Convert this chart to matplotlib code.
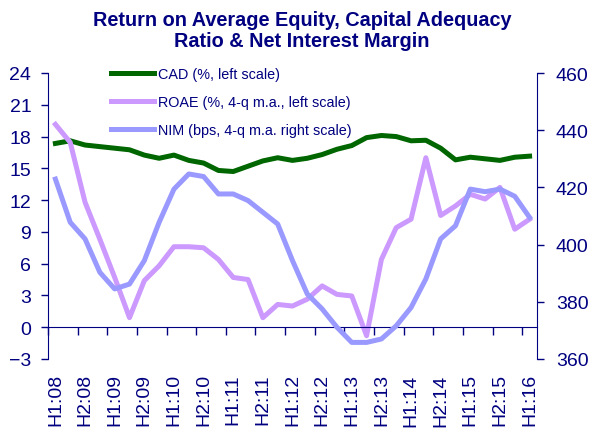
import numpy as np
import matplotlib
matplotlib.use("Agg")
import matplotlib.pyplot as plt
import matplotlib.transforms as mtransforms

plt.rcParams.update({"font.family": ["Liberation Sans", "DejaVu Sans"]})

NAVY = "#000080"
C_CAD = "#006600"
C_ROAE = "#CC99FF"
C_NIM = "#9999FF"

# quarterly points, Q1 2008 .. Q1 2016 (labels every half-year)
labels = ["H1:08", "H2:08", "H1:09", "H2:09", "H1:10", "H2:10", "H1:11", "H2:11",
          "H1:12", "H2:12", "H1:13", "H2:13", "H1:14", "H2:14", "H1:15", "H2:15",
          "H1:16"]

cad = [17.35, 17.6, 17.2, 17.05, 16.9, 16.75, 16.25, 15.95, 16.25, 15.75,
       15.5, 14.8, 14.7, 15.2, 15.7, 16.0, 15.75, 15.95, 16.3, 16.8,
       17.15, 17.9, 18.1, 18.0, 17.6, 17.65, 16.9, 15.8, 16.05, 15.9,
       15.75, 16.05, 16.15]
roae = [19.15, 17.45, 11.8, 8.3, 4.7, 0.9, 4.4, 5.8, 7.6, 7.6,
        7.5, 6.4, 4.7, 4.5, 0.9, 2.15, 2.0, 2.65, 3.9, 3.1,
        2.95, -0.8, 6.4, 9.4, 10.2, 16.0, 10.55, 11.45, 12.55, 12.1,
        13.2, 9.25, 10.2]
nim = [422.9, 407.8, 402.0, 390.3, 384.5, 386.2, 394.4, 407.8, 419.4, 424.7,
       423.8, 417.7, 417.7, 415.4, 411.3, 407.2, 394.4, 382.7, 377.5, 371.1,
       365.8, 365.8, 367.0, 371.6, 378.0, 388.0, 402.0, 406.6, 419.4, 418.5,
       419.4, 416.9, 409.5]

x = np.arange(len(cad))

fig = plt.figure(figsize=(5.89, 4.39), dpi=100)
ax = fig.add_axes([48 / 589, 79 / 439, 489 / 589, 286 / 439])
ax2 = ax.twinx()

l1, = ax.plot(x, cad, color=C_CAD, lw=3.6, solid_joinstyle="round",
              label="CAD (%, left scale)")
l2, = ax.plot(x, roae, color=C_ROAE, lw=3.6, solid_joinstyle="round",
              label="ROAE (%, 4-q m.a., left scale)")
l3, = ax2.plot(x, nim, color=C_NIM, lw=3.6, solid_joinstyle="round",
               label="NIM (bps, 4-q m.a. right scale)")

ax.set_xlim(-0.5, len(cad) - 0.5)
ax.set_ylim(-3, 24)
ax.set_yticks(np.arange(-3, 25, 3))
ax2.set_ylim(360, 460)
ax2.set_yticks(np.arange(360, 461, 20))

for a in (ax, ax2):
    a.spines["top"].set_visible(False)
    a.spines["left"].set_color(NAVY)
    a.spines["right"].set_color(NAVY)
    a.tick_params(axis="y", colors=NAVY, labelsize=14, length=5, width=1,
                  direction="out", labelcolor=NAVY)
ax2.spines["bottom"].set_visible(False)
ax.spines["right"].set_visible(False)
ax2.spines["left"].set_visible(False)
ax.tick_params(axis="y", pad=7)
ax2.tick_params(axis="y", pad=8.5)

# category axis crosses at zero, ticks between half-years
ax.spines["bottom"].set_position(("data", 0))
ax.spines["bottom"].set_color(NAVY)
ax.set_xticks(np.arange(-0.5, len(cad) - 1, 2))
ax.tick_params(axis="x", colors=NAVY, length=6, width=1, direction="out",
               labelbottom=False)
trans = mtransforms.blended_transform_factory(ax.transData, ax.transAxes)
for i, lab in enumerate(labels):
    ax.text(2 * i, -0.05, lab, rotation=90, ha="center", va="top",
            fontsize=14, color=NAVY, transform=trans)

ax2.legend(handles=[l1, l2, l3], loc="upper left", frameon=False,
           bbox_to_anchor=(111 / 589, 371 / 439), bbox_transform=fig.transFigure,
           fontsize=10.4, labelcolor=NAVY, handlelength=3.0, handletextpad=0.25,
           labelspacing=0.98, borderpad=0, borderaxespad=0)

fig.text(0.513, 0.974, "Return on Average Equity, Capital Adequacy\n"
         "Ratio & Net Interest Margin", ha="center", va="top", fontsize=14.3,
         fontweight="bold", color=NAVY, linespacing=1.1)

fig.savefig("out.png", dpi=100)
